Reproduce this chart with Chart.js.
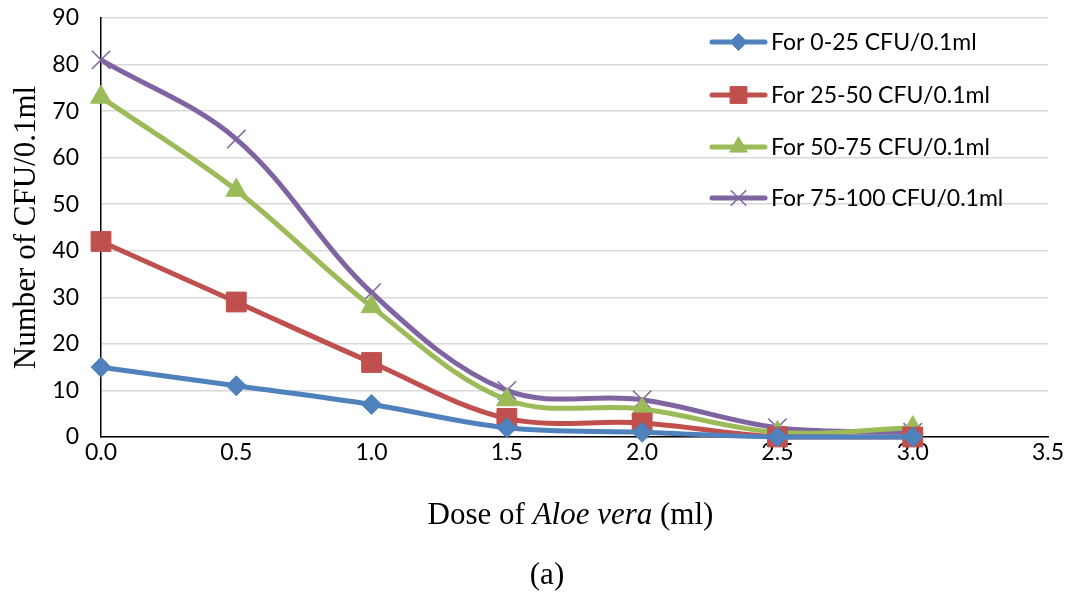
<!DOCTYPE html>
<html>
<head>
<meta charset="utf-8">
<script src="https://cdn.jsdelivr.net/npm/chart.js@4"></script>
<style>
  body { margin: 0; background: #fff; }
  #wrap { width: 1070px; height: 592px; }
</style>
</head>
<body>
<div id="wrap"><canvas id="chart"></canvas></div>
<script>
// doses of Aloe vera (ml)
const doses = [0, 0.5, 1.0, 1.5, 2.0, 2.5, 3.0];
const seriesNames = ["For 0-25 CFU/0.1ml", "For 25-50 CFU/0.1ml", "For 50-75 CFU/0.1ml", "For 75-100 CFU/0.1ml"];
const cfu0to25 = [15, 11, 7, 2, 1, 0, 0];
const cfu25to50 = [42, 29, 16, 4, 3, 0, 0];
const cfu50to75 = [73, 53, 28, 8, 6, 1, 2];
const cfu75to100 = [81, 64, 31, 10, 8, 2, 1];
const yTicks = [0, 10, 20, 30, 40, 50, 60, 70, 80, 90];

const colors = ["#4F81BD", "#C0504D", "#9BBB59", "#8064A2"];
const markers = [
  { style: "rectRot", radius: 10, border: 1 },
  { style: "rect", radius: 14, border: 1 },
  { style: "triangle", radius: 12, border: 1 },
  { style: "crossRot", radius: 13, border: 1.5 }
];

function toPoints(vals) {
  return doses.map((d, i) => ({ x: d, y: vals[i] }));
}

const allSeries = [cfu0to25, cfu25to50, cfu50to75, cfu75to100];

// custom legend inside the plot area, Excel style (line + marker)
const insideLegend = {
  id: "insideLegend",
  afterDraw(chart) {
    const ctx = chart.ctx;
    const x0 = 712, x1 = 765, ys = [42, 95, 147, 198];
    ctx.save();
    seriesNames.forEach((name, i) => {
      ctx.strokeStyle = colors[i];
      ctx.lineWidth = 5;
      ctx.lineCap = "round";
      ctx.beginPath();
      ctx.moveTo(x0, ys[i]);
      ctx.lineTo(x1, ys[i]);
      ctx.stroke();
      ctx.fillStyle = colors[i];
      ctx.lineWidth = markers[i].border;
      ctx.lineCap = "butt";
      Chart.helpers.drawPoint(ctx, {
        pointStyle: markers[i].style,
        radius: markers[i].radius * 0.85,
        borderWidth: markers[i].border,
        rotation: 0
      }, (x0 + x1) / 2, ys[i]);
      ctx.fillStyle = "#000";
      ctx.font = "23px Lato";
      ctx.textAlign = "left";
      ctx.textBaseline = "middle";
      ctx.fillText(name, x1 + 6, ys[i] + 1);
    });
    ctx.restore();
  }
};

// x-axis title with italic species name, and the panel caption
const bottomText = {
  id: "bottomText",
  afterDraw(chart) {
    const ctx = chart.ctx;
    const area = chart.chartArea;
    const parts = [
      ["Dose of ", "31px 'Liberation Serif'"],
      ["Aloe vera", "italic 31px 'Liberation Serif'"],
      [" (ml)", "31px 'Liberation Serif'"]
    ];
    ctx.save();
    ctx.fillStyle = "#000";
    ctx.textBaseline = "middle";
    ctx.textAlign = "left";
    let total = 0;
    parts.forEach(p => { ctx.font = p[1]; total += ctx.measureText(p[0]).width; });
    let x = (area.left + area.right) / 2 - total / 2 - 4;
    parts.forEach(p => {
      ctx.font = p[1];
      ctx.fillText(p[0], x, 516);
      x += ctx.measureText(p[0]).width;
    });
    ctx.font = "31px 'Liberation Serif'";
    ctx.textAlign = "center";
    ctx.fillText("(a)", 547, 576);
    ctx.restore();
  }
};

new Chart(document.getElementById("chart"), {
  type: "line",
  data: {
    datasets: allSeries.map((vals, i) => ({
      label: seriesNames[i],
      data: toPoints(vals),
      borderColor: colors[i],
      backgroundColor: colors[i],
      borderWidth: 5,
      tension: 0.35,
      pointStyle: markers[i].style,
      pointRadius: markers[i].radius,
      pointBorderWidth: markers[i].border,
      pointBorderColor: colors[i],
      pointBackgroundColor: colors[i],
      clip: false
    }))
  },
  options: {
    responsive: true,
    maintainAspectRatio: false,
    animation: false,
    layout: { autoPadding: false, padding: { top: 18, right: 22, left: 0, bottom: 0 } },
    plugins: {
      legend: { display: false },
      tooltip: { enabled: false }
    },
    scales: {
      x: {
        type: "linear",
        min: 0,
        max: 3.5,
        ticks: {
          stepSize: 0.5,
          padding: 2,
          color: "#000",
          font: { family: "Lato", size: 23 },
          callback: v => v.toFixed(1)
        },
        grid: { display: false, drawTicks: false },
        border: { color: "#000", width: 1.5 },
        afterFit: s => { s.height = 155; }
      },
      y: {
        min: 0,
        max: 90,
        afterBuildTicks: s => { s.ticks = yTicks.map(v => ({ value: v })); },
        ticks: {
          padding: 22,
          color: "#000",
          font: { family: "Lato", size: 23 }
        },
        grid: { color: "#d9d9d9", lineWidth: 1.5, drawTicks: false },
        border: { color: "#000", width: 1.5 },
        title: {
          display: true,
          text: "Number of CFU/0.1ml",
          color: "#000",
          font: { family: "Liberation Serif", size: 31 },
          padding: { top: 8, bottom: 0 }
        },
        afterFit: s => {
          s.width = 101;
          s.paddingTop = 0;
          s.paddingBottom = 0;
        }
      }
    }
  },
  plugins: [insideLegend, bottomText]
});
</script>
</body>
</html>
